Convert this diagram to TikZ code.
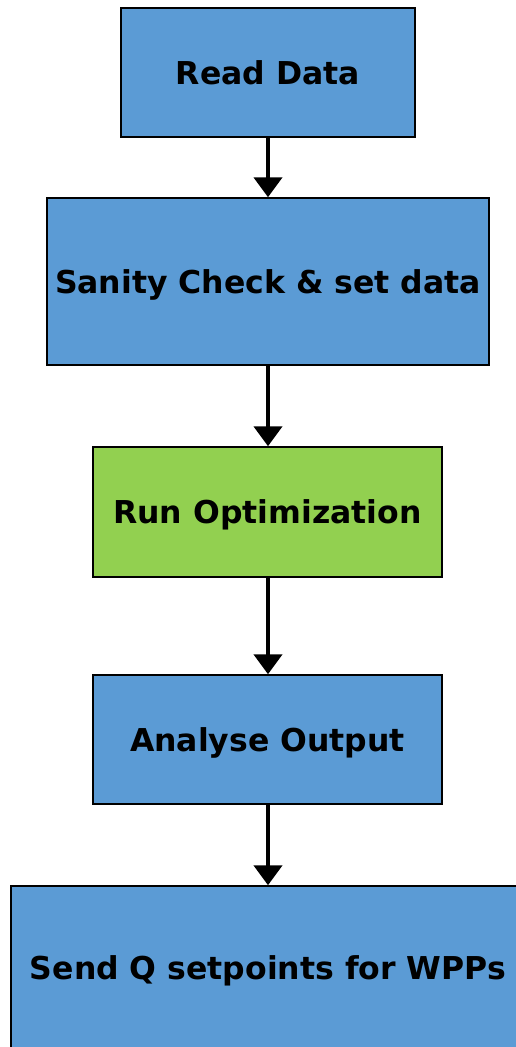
\documentclass[tikz,border=0pt]{standalone}
\usepackage{fontspec}
\setmainfont{DejaVu Sans}
\usetikzlibrary{arrows.meta}
\definecolor{stepblue}{HTML}{5B9BD5}
\definecolor{stepgreen}{HTML}{92D050}
\begin{document}
\begin{tikzpicture}[x=1pt,y=-1pt,
  stepbox/.style={draw=black,line width=1.5pt,fill=stepblue,inner sep=0pt,
    text height=23pt,text depth=0pt,
    font=\fontsize{31.5}{36}\selectfont\bfseries},
  flow/.style={line width=4.5pt,-{Triangle[length=20pt,width=28pt]}}]
\useasboundingbox (0,0) rectangle (516,1047);
\clip (0,0) rectangle (516,1047);
\node[stepbox,minimum width=294pt,minimum height=129pt] (read) at (268,72.5) {Read Data};
\node[stepbox,minimum width=442pt,minimum height=167pt] (sanity) at (268,281.5) {Sanity Check \& set data};
\node[stepbox,fill=stepgreen,minimum width=349pt,minimum height=130pt] (opt) at (267.5,512) {Run Optimization};
\node[stepbox,minimum width=349pt,minimum height=129pt] (analyse) at (267.5,739.5) {Analyse Output};
\node[stepbox,minimum width=514pt,minimum height=164pt] (send) at (268,968) {Send Q setpoints for WPPs};
\draw[flow] (read.south -| 268,0) -- (sanity.north -| 268,0);
\draw[flow] (sanity.south -| 268,0) -- (opt.north -| 268,0);
\draw[flow] (opt.south -| 268,0) -- (analyse.north -| 268,0);
\draw[flow] (analyse.south -| 268,0) -- (send.north -| 268,0);
\end{tikzpicture}
\end{document}
